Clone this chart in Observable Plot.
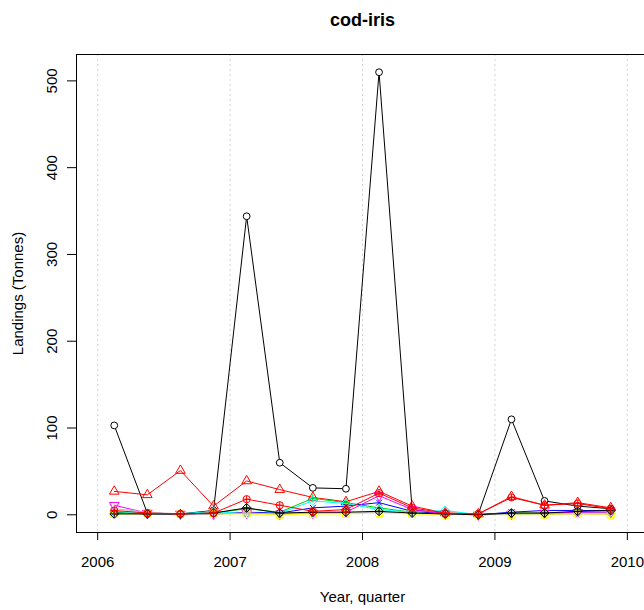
<!DOCTYPE html>
<html>
<head>
<meta charset="utf-8">
<script src="https://cdn.jsdelivr.net/npm/d3@7"></script>
<script src="https://cdn.jsdelivr.net/npm/@observablehq/plot@0.6"></script>
<style>
  body { margin: 0; background: #fff; }
  #chart svg { display: block; }
</style>
</head>
<body>
<div id="chart"></div>
<script>
// Quarter mid-points (year + (quarter - 0.5) / 4)
const quarterTimes = [2006.125, 2006.375, 2006.625, 2006.875,
                      2007.125, 2007.375, 2007.625, 2007.875,
                      2008.125, 2008.375, 2008.625, 2008.875,
                      2009.125, 2009.375, 2009.625, 2009.875];
const yearTicks = [2006, 2007, 2008, 2009, 2010];
const landingTicks = [0, 100, 200, 300, 400, 500];

// Landings (tonnes) per series
const s1BlackCircle   = [103, 2, 1, 5, 344, 60, 31, 30, 510, 6, 1, 1, 110, 16, 10, 7];
const s2RedTriangle   = [27, 23, 51, 10, 39, 29, 20, 15, 27, 10, 2, 1, 21, 11, 14, 8];
const s3GreenPlus     = [3, 1, 1, 2, 7, 3, 19, 14, 8, 3, 0, 1, 2, 2, 3, 3];
const s4BlueTimes     = [2, 1, 0, 1, 3, 2, 8, 10, 14, 4, 1, 0, 3, 5, 5, 5];
const s5CyanDiamond   = [4, 2, 1, 4, 1, 2, 16, 13, 6, 3, 5, 0, 1, 1, 2, 2];
const s6MagentaDown   = [11, 2, 1, 1, 2, 1, 2, 3, 22, 6, 1, 0, 1, 2, 3, 3];
const s7YellowSquare  = [1, 1, 1, 1, 1, 0, 1, 1, 2, 1, 0, 0, 0, 0, 1, 0];
const s8GrayAsterisk  = [7, 3, 1, 1, 2, 1, 2, 2, 3, 2, 1, 0, 1, 1, 1, 1];
const s9BlackDiamond  = [1, 1, 1, 2, 8, 2, 3, 3, 4, 2, 1, 0, 2, 2, 4, 5];
const s10RedCirclePlus = [5, 2, 1, 2, 18, 11, 4, 6, 25, 8, 2, 1, 20, 11, 13, 7];

const seriesDefs = [
  {values: s1BlackCircle,    color: "#000000", fill: "#fff", symbols: [{symbol: "circle", r: 3.4}]},
  {values: s2RedTriangle,    color: "#FF0000", symbols: [{symbol: "triangle2", r: 4.6}]},
  {values: s3GreenPlus,      color: "#00CD00", symbols: [{symbol: "plus", r: 2.8}]},
  {values: s4BlueTimes,      color: "#0000FF", symbols: [{symbol: "times", r: 2.8}]},
  {values: s5CyanDiamond,    color: "#00FFFF", symbols: [{symbol: "diamond2", r: 4}]},
  {values: s6MagentaDown,    color: "#FF00FF", symbols: [{symbol: "triangle2", r: 4.6, rotate: 180}]},
  {values: s7YellowSquare,   color: "#FFFF00", symbols: [{symbol: "square2", r: 4.4}, {symbol: "times", r: 2.6}]},
  {values: s8GrayAsterisk,   color: "#BEBEBE", symbols: [{symbol: "asterisk", r: 2.8}]},
  {values: s9BlackDiamond,   color: "#000000", symbols: [{symbol: "diamond2", r: 4}, {symbol: "plus", r: 2.6}]},
  {values: s10RedCirclePlus, color: "#FF0000", symbols: [{symbol: "circle", r: 3.6}, {symbol: "plus", r: 2.4}]}
];

const marks = [
  Plot.ruleX(yearTicks, {x: d => d, stroke: "#d3d3d3", strokeDasharray: "2,3"})
];

seriesDefs.forEach((s) => {
  const rows = s.values.map((v, k) => ({t: quarterTimes[k], v}));
  marks.push(Plot.line(rows, {x: "t", y: "v", stroke: s.color, strokeWidth: 1}));
  s.symbols.forEach(sym => {
    marks.push(Plot.dot(rows, {
      x: "t", y: "v", symbol: sym.symbol, r: sym.r,
      stroke: s.color, fill: s.fill || "none", strokeWidth: 1,
      rotate: sym.rotate || 0
    }));
  });
});

const txt = {fill: "#000", textAnchor: "middle", lineAnchor: "middle"};

marks.push(
  Plot.frame({stroke: "#000", strokeWidth: 1}),
  Plot.axisY(landingTicks, {tickSize: 9, tickFormat: () => "", label: null}),
  Plot.axisX(yearTicks, {tickSize: 8, tickFormat: () => "", label: null}),
  Plot.text(landingTicks, {...txt, y: d => d, text: d => String(d), frameAnchor: "left", dx: -24,
                           rotate: -90, fontSize: 15}),
  Plot.text(yearTicks, {...txt, x: d => d, text: d => String(d), frameAnchor: "bottom", dy: 30,
                        fontSize: 15}),
  Plot.text(["Landings (Tonnes)"], {...txt, text: d => d, frameAnchor: "left", dx: -58, rotate: -90,
                                    fontSize: 15}),
  Plot.text(["Year, quarter"], {...txt, text: d => d, frameAnchor: "bottom", dy: 65, fontSize: 15}),
  Plot.text(["cod-iris"], {...txt, text: d => d, frameAnchor: "top", dy: -34, fontSize: 18,
                           fontWeight: "bold"})
);

const chart = Plot.plot({
  width: 644,
  height: 610,
  marginLeft: 76,
  marginRight: -4,
  marginTop: 54,
  marginBottom: 78,
  style: {fontFamily: "'Liberation Sans', Arial, sans-serif", background: "#fff", color: "#000", overflow: "hidden"},
  x: {domain: [2005.84, 2010.16], axis: null},
  y: {domain: [-20.4, 530.4], axis: null},
  marks
});
document.getElementById("chart").appendChild(chart);
</script>
</body>
</html>
